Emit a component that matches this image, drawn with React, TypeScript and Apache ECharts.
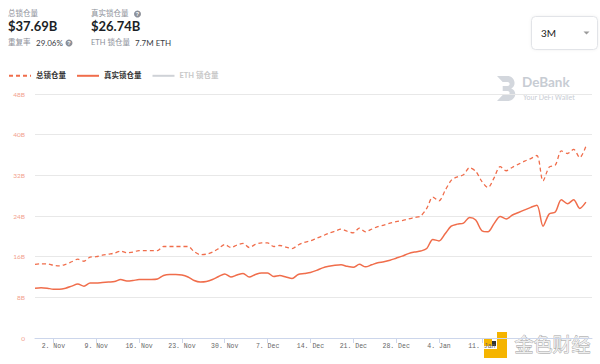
import React, { useEffect, useRef } from "react";
import * as echarts from "echarts";

// Daily dates: 30 Oct 2020 .. 29 Jan 2021 (last slot left empty)
const startDateUTC = Date.UTC(2020, 9, 30);
const dayCount = 92;
const MONTHS = ["Jan", "Feb", "Mar", "Apr", "May", "Jun", "Jul", "Aug", "Sep", "Oct", "Nov", "Dec"];
const categories: string[] = Array.from({ length: dayCount }, (_, i) => {
  const d = new Date(startDateUTC + i * 86400000);
  return `${d.getUTCDate()}. ${MONTHS[d.getUTCMonth()]}`;
});

const tickLabels = ["2. Nov", "9. Nov", "16. Nov", "23. Nov", "30. Nov", "7. Dec", "14. Dec", "21. Dec", "28. Dec", "4. Jan", "11. Jan"];

const yTicks = [0, 8, 16, 24, 32, 40, 48];

// 总锁仓量 (B USD)
const totalTVL = [
  14.5, 14.6, 14.6, 14.3, 14.2, 14.5, 15.0, 15.5, 15.1, 15.9,
  16.0, 16.3, 16.5, 16.7, 17.1, 16.8, 16.9, 17.2, 17.2, 17.2,
  17.2, 18.0, 18.0, 18.0, 18.0, 18.0, 17.0, 16.4, 16.5, 16.9,
  17.6, 18.4, 17.8, 18.3, 18.6, 17.8, 18.4, 18.7, 18.7, 18.0,
  18.2, 17.9, 17.6, 18.3, 18.8, 19.1, 19.6, 20.1, 20.6, 21.0,
  21.4, 21.0, 20.7, 21.6, 20.9, 21.4, 21.9, 22.2, 22.6, 22.9,
  23.1, 23.4, 23.7, 24.0, 25.5, 27.7, 27.0, 29.0, 31.0, 31.7,
  32.1, 33.5, 32.8, 30.8, 29.6, 31.5, 33.7, 32.9, 33.6, 34.2,
  34.8, 35.3, 35.9, 30.9, 33.6, 34.0, 36.8, 36.3, 37.1, 35.5,
  37.69,
];

// 真实锁仓量 (B USD)
const realTVL = [
  9.8, 9.9, 9.8, 9.6, 9.6, 9.8, 10.2, 10.6, 10.2, 10.8,
  10.8, 10.9, 11.0, 11.1, 11.5, 11.2, 11.3, 11.5, 11.5, 11.5,
  11.6, 12.3, 12.5, 12.5, 12.4, 12.0, 11.3, 11.0, 11.1, 11.5,
  12.1, 12.6, 12.0, 12.4, 12.7, 12.0, 12.5, 12.8, 12.8, 12.1,
  12.3, 12.0, 11.7, 12.5, 12.7, 12.9, 13.3, 13.8, 14.1, 14.3,
  14.4, 14.1, 13.9, 14.5, 14.0, 14.4, 14.8, 15.0, 15.3, 15.7,
  16.1, 16.6, 16.9, 17.1, 17.6, 19.4, 19.1, 20.5, 22.0, 22.4,
  22.6, 23.7, 23.2, 21.1, 20.9, 22.5, 23.9, 23.4, 24.2, 24.7,
  25.2, 25.7, 26.1, 22.0, 24.4, 24.8, 27.2, 26.4, 27.2, 25.5,
  26.74,
];

// ETH 锁仓量 — hidden in the reference (legend item disabled)
const ethTVL: number[] = [];

const seriesNames = ["总锁仓量", "真实锁仓量", "ETH 锁仓量"];

const headerTexts = {
  totalLabel: "总锁仓量",
  totalValue: "$37.69B",
  dupLabel: "重复率",
  dupValue: "29.06%",
  realLabel: "真实锁仓量",
  realValue: "$26.74B",
  ethLabel: "ETH 锁仓量",
  ethValue: "7.7M ETH",
  range: "3M",
};

const LINE = "#f06d4b";
const FONT = "Lato, 'Noto Sans CJK SC', sans-serif";

echarts.graphic.registerShape(
  "debankLogo",
  echarts.graphic.extendPath(
    "M0 0 H11 C19 0 21 10 15 12.5 C22 15 20 25 11 25 H0 L6 19 H11 C14 19 14 15 11 15 H6 V10 H11 C14 10 14 6 11 6 H6 Z",
    {}
  )
);

export default function App() {
  const ref = useRef<HTMLDivElement>(null);
  useEffect(() => {
    if (!ref.current) return;
    const chart = echarts.init(ref.current, undefined, { renderer: "svg" });
    const showTick = (_i: number, v: string) => tickLabels.includes(v);
    const gray = "#8c9099";
    const dark = "#1c1f26";
    chart.setOption({
      animation: false,
      textStyle: { fontFamily: FONT },
      grid: { left: 35, right: 8, top: 94, bottom: 26 },
      legend: {
        left: 3,
        top: 66,
        itemWidth: 22,
        itemHeight: 12,
        itemGap: 10,
        inactiveColor: "#c8c8c8",
        itemStyle: { opacity: 0 },
        textStyle: { fontSize: 7.5, color: "#333", fontWeight: "bold", fontFamily: FONT },
        data: seriesNames,
        selected: { [seriesNames[2]]: false },
      },
      xAxis: {
        type: "category",
        boundaryGap: false,
        data: categories,
        axisLine: { lineStyle: { color: "#ccd6eb" } },
        axisTick: { show: true, interval: showTick, length: 5, lineStyle: { color: "#ccd6eb" } },
        axisLabel: {
          interval: showTick,
          fontSize: 6.5,
          color: "#666",
          fontFamily: "'Liberation Mono', monospace",
          margin: 5,
        },
        splitLine: { show: false },
      },
      yAxis: {
        type: "value",
        min: yTicks[0],
        max: yTicks[yTicks.length - 1],
        interval: 8,
        axisLine: { show: false },
        axisTick: { show: false },
        axisLabel: {
          fontSize: 6.5,
          color: "#f2a18e",
          margin: 10,
          formatter: (v: number) => (v === 0 ? "0" : `${v}B`),
        },
        splitLine: { lineStyle: { color: "#e8e8e8" } },
      },
      series: [
        {
          name: seriesNames[0],
          type: "line",
          data: totalTVL,
          symbol: "none",
          smooth: 0.3,
          color: LINE,
          lineStyle: { color: LINE, width: 1.3, type: [4, 3] },
        },
        {
          name: seriesNames[1],
          type: "line",
          data: realTVL,
          symbol: "none",
          smooth: 0.3,
          color: LINE,
          lineStyle: { color: LINE, width: 1.5 },
        },
        {
          name: seriesNames[2],
          type: "line",
          data: ethTVL,
          symbol: "none",
          color: "#999",
          lineStyle: { color: "#999", width: 1.3 },
        },
      ],
      graphic: [
        // header
        { type: "text", left: 8, top: 9.5, style: { text: headerTexts.totalLabel, fontSize: 7.5, fill: gray, fontFamily: FONT } },
        { type: "text", left: 8, top: 19.5, style: { text: headerTexts.totalValue, fontSize: 13, fontWeight: "bold", fill: dark, fontFamily: FONT } },
        { type: "text", left: 8, top: 38.5, style: { text: headerTexts.dupLabel, fontSize: 7.5, fill: gray, fontFamily: FONT } },
        { type: "text", left: 36, top: 38.5, style: { text: headerTexts.dupValue, fontSize: 8, fill: "#3a3d45", fontFamily: FONT } },
        { type: "circle", shape: { cx: 69, cy: 43, r: 3.5 }, style: { fill: "#8c9099" } },
        { type: "text", x: 69, y: 43, style: { text: "?", fontSize: 5.5, fontWeight: "bold", fill: "#fff", align: "center", verticalAlign: "middle" } },

        { type: "text", left: 91, top: 9.5, style: { text: headerTexts.realLabel, fontSize: 7.5, fill: gray, fontFamily: FONT } },
        { type: "circle", shape: { cx: 137.5, cy: 14, r: 3.5 }, style: { fill: "#8c9099" } },
        { type: "text", x: 137.5, y: 14, style: { text: "?", fontSize: 5.5, fontWeight: "bold", fill: "#fff", align: "center", verticalAlign: "middle" } },
        { type: "text", left: 91, top: 19.5, style: { text: headerTexts.realValue, fontSize: 13, fontWeight: "bold", fill: dark, fontFamily: FONT } },
        { type: "text", left: 91, top: 38.5, style: { text: headerTexts.ethLabel, fontSize: 7.5, fill: gray, fontFamily: FONT } },
        { type: "text", left: 135, top: 38.5, style: { text: headerTexts.ethValue, fontSize: 8, fill: "#3a3d45", fontFamily: FONT } },

        // range selector
        { type: "rect", shape: { x: 531.5, y: 16.5, width: 66, height: 33, r: 4 }, style: { fill: "#fff", stroke: "#e2e4e8", lineWidth: 1, shadowBlur: 3, shadowColor: "rgba(0,0,0,0.06)" } },
        { type: "text", left: 541, top: 27.5, style: { text: headerTexts.range, fontSize: 10, fill: "#222", fontFamily: FONT } },
        { type: "polygon", shape: { points: [[583.5, 31.5], [589.5, 31.5], [586.5, 34.5]] }, style: { fill: "#9a9a9a" } },

        // DeBank watermark
        { type: "debankLogo", x: 497, y: 76, scaleX: 0.95, scaleY: 1, style: { fill: "#d3d7dd" } },
        { type: "text", left: 522, top: 75, style: { text: "DeBank", fontSize: 13.5, fontWeight: "bold", fill: "#c7ccd3", fontFamily: FONT } },
        { type: "text", left: 523, top: 93, style: { text: "Your DeFi Wallet", fontSize: 7, fill: "#c7ccd3", fontFamily: FONT } },

        // 金色财经 watermark
        { type: "rect", shape: { x: 484, y: 338, width: 8, height: 8 }, style: { fill: "#f5b400" } },
        { type: "rect", shape: { x: 497, y: 332, width: 10, height: 26 }, style: { fill: "#f5b400" } },
        { type: "rect", shape: { x: 484, y: 349, width: 23, height: 9 }, style: { fill: "#f5b400" } },
        { type: "rect", shape: { x: 492, y: 341, width: 4, height: 5 }, style: { fill: "#333" } },
        { type: "text", left: 514, top: 334, style: { text: "金色财经", fontSize: 19, fill: "#efefef", stroke: "#9f9f9f", lineWidth: 0.8, fontFamily: "'Noto Sans CJK SC', sans-serif" } },
      ],
    });
    return () => chart.dispose();
  }, []);
  return (
    <div
      ref={ref}
      style={{ position: "fixed", left: 0, top: 0, width: 600, height: 364, background: "#fff" }}
    />
  );
}
